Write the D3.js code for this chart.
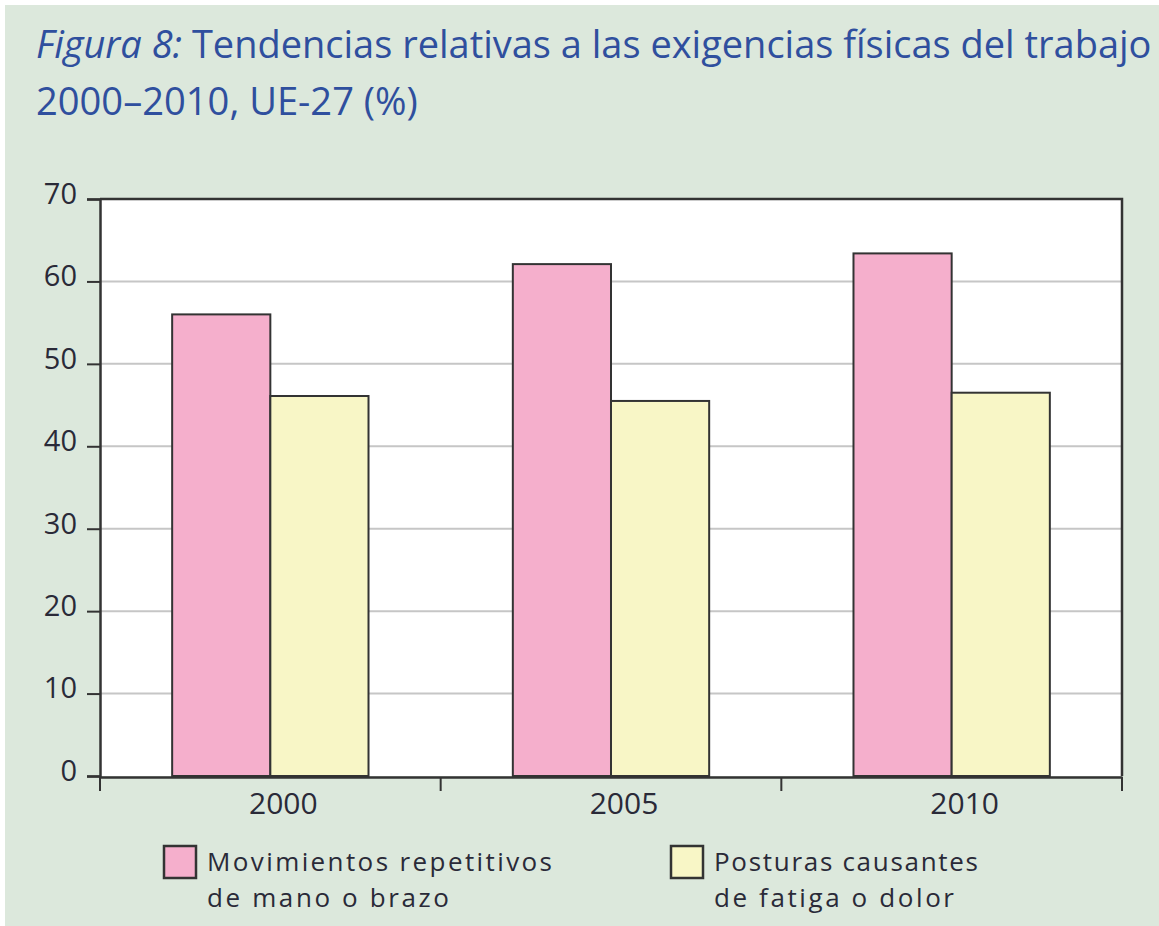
<!DOCTYPE html>
<html><head><meta charset="utf-8">
<script src="https://cdn.jsdelivr.net/npm/d3@7"></script>
<style>html,body{margin:0;padding:0;background:#fff;}svg{display:block;}</style>
</head><body>
<script>
const categories = ["2000", "2005", "2010"];
const seriesNames = ["Movimientos repetitivos de mano o brazo", "Posturas causantes de fatiga o dolor"];
const movimientos = [56.0, 62.1, 63.4];
const posturas = [46.1, 45.5, 46.5];
const yTicks = [0, 10, 20, 30, 40, 50, 60, 70];
const legendLines = [["Movimientos repetitivos", "de mano o brazo"], ["Posturas causantes", "de fatiga o dolor"]];
const colors = ["#f5afcc", "#f8f6c6"];

const W = 1159, H = 926;
const svg = d3.select("body").append("svg").attr("width", W).attr("height", H);
svg.append("rect").attr("x", 5).attr("y", 5).attr("width", W - 5).attr("height", H - 5).attr("fill", "#dce8dc");

const titleColor = "#2f4f9e";
const textColor = "#2a2a38";
const font = "'Open Sans', sans-serif";
function fit(sel, target, base) {
  const w = sel.node().getComputedTextLength();
  sel.attr("font-size", base * target / w);
}

// Title
const t1 = svg.append("text").attr("x", 36).attr("y", 58).attr("font-family", font).attr("font-size", 34).attr("fill", titleColor);
t1.append("tspan").attr("font-style", "italic").text("Figura 8:");
t1.append("tspan").text(" Tendencias relativas a las exigencias físicas del trabajo");
const t2 = svg.append("text").attr("x", 36).attr("y", 115).attr("font-family", font).attr("font-size", 34).attr("fill", titleColor)
  .text("2000–2010, UE-27 (%)");
fit(t1, 1116, 34);
fit(t2, 382, 34);

// Plot
const L = 100, R = 1122, T = 199, B = 776;
const x0 = d3.scaleBand().domain(categories).range([L, R]).paddingInner(0).paddingOuter(0);
const x1 = d3.scaleBand().domain(seriesNames).range([0, x0.bandwidth()]).paddingInner(0).paddingOuter(0.735);
const y = d3.scaleLinear().domain([0, 70]).range([B, T]);

svg.append("rect").attr("x", L).attr("y", T).attr("width", R - L).attr("height", B - T).attr("fill", "#fff");

svg.append("g").selectAll("line").data(yTicks.filter(d => d > 0 && d < 70)).join("line")
  .attr("x1", L).attr("x2", R).attr("y1", d => y(d)).attr("y2", d => y(d))
  .attr("stroke", "#c6c6c6").attr("stroke-width", 2);

const data = categories.map((c, i) => ({ c, vals: [movimientos[i], posturas[i]] }));
const g = svg.append("g").selectAll("g").data(data).join("g").attr("transform", d => `translate(${x0(d.c)},0)`);
g.selectAll("rect").data(d => d.vals.map((v, j) => ({ v, s: seriesNames[j], j }))).join("rect")
  .attr("x", d => x1(d.s)).attr("width", x1.bandwidth())
  .attr("y", d => y(d.v)).attr("height", d => y(0) - y(d.v))
  .attr("fill", d => colors[d.j]).attr("stroke", "#333").attr("stroke-width", 2);

svg.append("path").attr("d", `M${L},${T}H${R}V${B}`).attr("fill", "none").attr("stroke", "#333").attr("stroke-width", 2.5);

// y axis
const yAxis = d3.axisLeft(y).tickValues(yTicks).tickSize(13).tickPadding(10).tickFormat(d3.format("d"));
const ya = svg.append("g").attr("transform", `translate(${L},0)`).call(yAxis);
ya.select(".domain").attr("stroke", "#333").attr("stroke-width", 2.5);
ya.selectAll(".tick line").attr("stroke", "#333").attr("stroke-width", 2);
ya.selectAll("text").attr("font-family", font).attr("font-size", 29).attr("fill", textColor).attr("dy", "0.15em");

// x axis
const xAxis = d3.axisBottom(x0).tickSize(0).tickPadding(16);
const xa = svg.append("g").attr("transform", `translate(0,${B + 1})`).call(xAxis);
xa.select(".domain").attr("stroke", "#333").attr("stroke-width", 2.5);
xa.selectAll("text").attr("font-family", font).attr("font-size", 30).attr("fill", textColor).attr("dx", 13);
const boundaries = categories.map(c => x0(c)).concat([x0(categories[categories.length - 1]) + x0.bandwidth()]);
xa.append("g").selectAll("line").data(boundaries).join("line")
  .attr("x1", d => d).attr("x2", d => d).attr("y1", 0).attr("y2", 14)
  .attr("stroke", "#333").attr("stroke-width", 2);

// legend
const legX = [164, 671];
const legW = [[345, 242], [264, 240]];
const lg = svg.append("g").selectAll("g").data(legendLines).join("g").attr("transform", (d, i) => `translate(${legX[i]},846)`);
lg.append("rect").attr("width", 32).attr("height", 32).attr("fill", (d, i) => colors[i]).attr("stroke", "#333").attr("stroke-width", 2.5);
lg.each(function (d, i) {
  const gg = d3.select(this);
  d.forEach((line, k) => {
    gg.append("text").attr("font-family", font).attr("font-size", 26).attr("fill", textColor)
      .attr("x", 43).attr("y", 25 + k * 36)
      .attr("textLength", legW[i][k]).attr("lengthAdjust", "spacing")
      .text(line);
  });
});
</script>
</body></html>
